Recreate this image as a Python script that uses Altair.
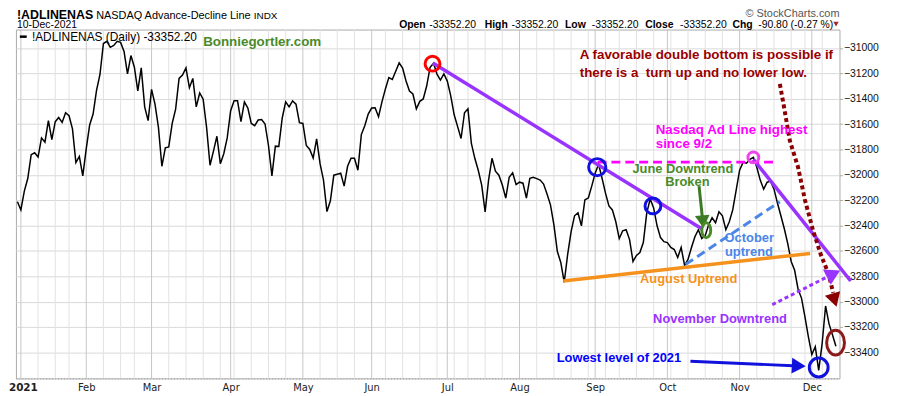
import json
import altair as alt
import numpy as np
import pandas as pd

# ---------------- data ----------------
holidays_2021 = ["2021-01-01", "2021-01-18", "2021-02-15", "2021-04-02",
                 "2021-05-31", "2021-07-05", "2021-09-06", "2021-11-25"]

# NASDAQ Advance-Decline line, daily close, 31-Dec-2020 .. 10-Dec-2021
adl_close = [
    -32212, -32277, -32128, -32029, -31841, -31826, -31860, -31709, -31743, -31573,
    -31722, -31581, -31548, -31587, -31511, -31534, -31638, -31904, -31855, -32009,
    -31795, -31607, -31521, -31334, -31209, -30965, -30948, -30995, -30980, -30948,
    -30956, -31027, -31204, -31060, -31152, -31339, -31157, -31464, -31573, -31326,
    -31443, -31626, -31933, -31787, -31780, -31595, -31482, -31240, -31214, -31157,
    -31313, -31240, -31464, -31355, -31404, -31626, -31925, -31813, -31696, -31912,
    -31834, -31709, -31495, -31417, -31417, -31581, -31425, -31474, -31595, -31613,
    -31568, -31565, -31599, -31769, -32009, -31774, -31777, -31552, -31425, -31464,
    -31417, -31443, -31589, -31595, -31769, -31800, -31868, -31716, -31912, -32042,
    -32290, -32205, -32003, -31995, -31987, -32089, -31933, -31870, -31870, -31964,
    -31683, -31613, -31521, -31474, -31472, -31542, -31425, -31323, -31234, -31248,
    -31183, -31118, -31159, -31261, -31339, -31363, -31480, -31421, -31402, -31300,
    -31152, -31120, -31206, -31253, -31204, -31261, -31378, -31527, -31620, -31714,
    -31511, -31480, -31753, -31870, -31964, -32081, -32292, -32042, -31870, -31972,
    -32003, -32081, -32183, -32019, -31985, -32077, -32058, -32066, -32183, -32027,
    -32019, -32030, -32042, -32073, -32152, -32237, -32394, -32605, -32691, -32847,
    -32628, -32448, -32323, -32300, -32402, -32198, -32183, -32089, -31987, -31917,
    -32027, -32144, -32245, -32277, -32370, -32503, -32441, -32433, -32511, -32683,
    -32636, -32613, -32534, -32300, -32191, -32261, -32402, -32495, -32527, -32534,
    -32573, -32589, -32652, -32573, -32714, -32667, -32573, -32488, -32433, -32503,
    -32480, -32394, -32339, -32378, -32292, -32323, -32433, -32370, -32277, -32120,
    -31964, -31902, -31909, -31878, -31863, -31941, -32042, -32113, -32058, -32050,
    -32113, -32222, -32323, -32425, -32542, -32683, -32753, -32902, -32972, -33120,
    -33277, -33417, -33355, -33542, -33331, -33034, -33175, -33261, -33352.2,
]

month_labels = ["2021", "Feb", "Mar", "Apr", "May", "Jun", "Jul", "Aug", "Sep", "Oct", "Nov", "Dec"]
y_tick_values = list(range(-33400, -30999, 200))

# annotation anchors (session number, A-D value)
circle_session = [119.7, 167.6, 183.8, 232.0, 213.0]
circle_value = [-31124, -31940, -32245, -33519, -31863]
circle_color = ["#ff0000", "#1111dd", "#1111dd", "#1111dd", "#ee44ee"]
circle_size = [225, 300, 256, 361, 121]

ellipse_session = [236.9, 199.3]
ellipse_value = [-33323, -32437]
ellipse_color = ["#8b1a1a", "#4a8a2a"]

june_down_session, june_down_value = [119.8, 198.1], [-31118, -32427]
nov_down_session, nov_down_value = [213.0, 241.3], [-31878, -32837]
since_92_session, since_92_value = [167.7, 218.7], [-31900, -31900]
aug_up_session, aug_up_value = [157.7, 229.5], [-32837, -32620]
oct_up_session, oct_up_value = [193.3, 220.7], [-32706, -32212]
nov_arrow_session, nov_arrow_value = [218.5, 236.3], [-33024, -32780]
low_arrow_session, low_arrow_value = [194.7, 226.2], [-33470, -33507]
green_arrow_session, green_arrow_value = [197.2, 198.3], [-32089, -32370]
dbl_curve_session = [220.7, 221.6, 223.6, 226.0, 228.0, 230.3, 232.6, 234.9, 236.2]
dbl_curve_value = [-31284, -31417, -31730, -31941, -32198, -32433, -32628, -32784, -32930]

head_session = [236.3, 226.2, 236.6, 198.3]
head_value = [-32780, -33507, -32988, -32370]
head_shape = ["triangle-right", "triangle-right", "triangle-down", "triangle-down"]
head_angle = [333, 3, 343, 355]
head_color = ["#9933ff", "#1111dd", "#8b0000", "#3d7a26"]
head_size = [300, 260, 260, 220]

left_text = ["Bonniegortler.com", "A favorable double bottom is possible if",
             "there is a \u00a0turn up and no lower low.", "Nasdaq Ad Line highest", "since 9/2"]
left_session = [53.0, 162.5, 162.5, 184.6, 184.6]
left_value = [-30952, -31058, -31198, -31644, -31761]
left_color = ["#4a8a2a", "#990000", "#990000", "#ff00ff", "#ff00ff"]

center_text = ["June Downtrend", "Broken", "October", "uptrend", "August Uptrend",
               "November Downtrend", "Lowest level of 2021"]
center_session = [192.5, 193.8, 211.8, 211.7, 194.2, 203.3, 173.9]
center_value = [-31955, -32058, -32495, -32605, -32823, -33140, -33448]
center_color = ["#4a8a2a", "#4a8a2a", "#4a86e8", "#4a86e8", "#f5921e", "#9933ff", "#0000ff"]

# ---------------- trading calendar ----------------
cal = np.arange(np.datetime64("2020-12-31"), np.datetime64("2021-12-11"))
sessions = cal[np.is_busday(cal, holidays=np.array(holidays_2021, dtype="datetime64[D]"))]
session_no = np.arange(len(sessions)) - 1
line_df = pd.DataFrame({"session": session_no, "date": sessions.astype(str), "adl": adl_close})

dti = pd.DatetimeIndex(sessions.astype("datetime64[ns]"))
iso_week = dti.isocalendar().week.to_numpy()
months = dti.month.to_numpy()
grid_rows = []
month_starts = []
for i in range(1, len(dti)):
    if months[i] != months[i - 1]:
        grid_rows.append({"session": int(session_no[i]), "color": "#c6c6c6"})
        month_starts.append(int(session_no[i]))
    elif iso_week[i] != iso_week[i - 1]:
        grid_rows.append({"session": int(session_no[i]), "color": "#e2e2e2"})
grid_df = pd.DataFrame(grid_rows)

# ---------------- scales / axes ----------------
x_scale = alt.Scale(domain=[-1.44, 238.04], nice=False, zero=False)
y_scale = alt.Scale(domain=[-33605, -30855], nice=False, zero=False)

label_expr = f"{json.dumps(month_labels)}[indexof({json.dumps(month_starts)}, datum.value)]"
x_axis = alt.Axis(values=month_starts, labelExpr=label_expr, grid=False, ticks=False,
                  domainColor="#999999", domainDash=[1, 2], labelPadding=4,
                  labelFont="DejaVu Sans",
                  labelFontSize=alt.condition("datum.value == 0", alt.value(10.5), alt.value(10)),
                  labelFontWeight=alt.condition("datum.value == 0", alt.value("bold"), alt.value("normal")),
                  labelOffset=alt.condition("datum.value == 0", alt.value(2), alt.value(0)),
                  labelColor="#222222", labelOverlap=False, labelBound=False, labelFlush=False,
                  title=None)
y_axis = alt.Axis(orient="right", values=y_tick_values, format="d", grid=True,
                  gridColor="#d9d9d9", tickSize=3, tickColor="#aaaaaa", labelPadding=1,
                  domain=False, labelFont="Liberation Sans", labelFontSize=10.5,
                  labelColor="#111111", title=None)


def X(field="session"):
    return alt.X(f"{field}:Q", scale=x_scale, axis=x_axis)


def Y(field="adl"):
    return alt.Y(f"{field}:Q", scale=y_scale, axis=y_axis)


def seg(s, v):
    return pd.DataFrame({"session": s, "adl": v})


layers = []

# vertical grid
layers.append(alt.Chart(grid_df).mark_rule(strokeWidth=1).encode(
    x=X(), color=alt.Color("color:N", scale=None)))

# main line
layers.append(alt.Chart(line_df).mark_line(color="black", strokeWidth=1.5).encode(
    x=X(), y=Y(), tooltip=["date:N", "adl:Q"]))

# legend inside plot
layers.append(alt.Chart(pd.DataFrame({"session": [-0.3], "s2": [1.7], "adl": [-30911]}))
              .mark_rule(color="black", strokeWidth=2.5)
              .encode(x=X(), x2=alt.X2("s2"), y=Y()))
layers.append(alt.Chart(pd.DataFrame({"session": [3.2], "adl": [-30913],
                                      "t": ["!ADLINENAS (Daily) -33352.20"]}))
              .mark_text(align="left", baseline="middle", font="Liberation Sans", fontSize=12,
                         color="black")
              .encode(x=X(), y=Y(), text="t:N"))

# trend lines
line_styles = [
    (june_down_session, june_down_value, "#9933ff", 3.5, None),
    (nov_down_session, nov_down_value, "#9933ff", 3.5, None),
    (since_92_session, since_92_value, "#ff00ff", 3, [9, 5]),
    (aug_up_session, aug_up_value, "#f5921e", 3.5, None),
    (oct_up_session, oct_up_value, "#4a86e8", 3, [9, 5]),
    (nov_arrow_session, nov_arrow_value, "#9933ff", 3, [4, 3]),
    (low_arrow_session, low_arrow_value, "#1111dd", 3, None),
    (green_arrow_session, green_arrow_value, "#3d7a26", 3, None),
    (dbl_curve_session, dbl_curve_value, "#8b0000", 4, [4, 3]),
]
for s, v, c, w, dash in line_styles:
    kw = dict(color=c, strokeWidth=w, clip=False)
    if dash:
        kw["strokeDash"] = dash
    layers.append(alt.Chart(seg(s, v)).mark_line(**kw).encode(x=X(), y=Y()))

# arrow heads
head_df = pd.DataFrame({"session": head_session, "adl": head_value, "shape": head_shape,
                        "angle": head_angle, "color": head_color, "size": head_size})
layers.append(alt.Chart(head_df).mark_point(filled=True, opacity=1, clip=False).encode(
    x=X(), y=Y(), shape=alt.Shape("shape:N", scale=None), angle=alt.Angle("angle:Q", scale=None),
    color=alt.Color("color:N", scale=None), size=alt.Size("size:Q", scale=None)))

# circles
circ_df = pd.DataFrame({"session": circle_session, "adl": circle_value,
                        "color": circle_color, "size": circle_size})
layers.append(alt.Chart(circ_df).mark_point(filled=False, strokeWidth=3, opacity=1, shape="circle").encode(
    x=X(), y=Y(), color=alt.Color("color:N", scale=None), size=alt.Size("size:Q", scale=None)))

# ellipses
ell_df = pd.DataFrame({"session": ellipse_session, "adl": ellipse_value, "color": ellipse_color,
                       "size": [625, 225],
                       "shape": ["M0,-1A0.72,1,0,1,1,0,1A0.72,1,0,1,1,0,-1Z",
                                 "M0,-1A0.6,1,0,1,1,0,1A0.6,1,0,1,1,0,-1Z"]})
layers.append(alt.Chart(ell_df).mark_point(filled=False, strokeWidth=3, opacity=1).encode(
    x=X(), y=Y(), color=alt.Color("color:N", scale=None), size=alt.Size("size:Q", scale=None),
    shape=alt.Shape("shape:N", scale=None)))

# annotation texts
left_df = pd.DataFrame({"session": left_session, "adl": left_value, "t": left_text, "color": left_color})
layers.append(alt.Chart(left_df).mark_text(align="left", baseline="middle", font="Liberation Sans",
                                           fontSize=13.5, fontWeight="bold").encode(
    x=X(), y=Y(), text="t:N", color=alt.Color("color:N", scale=None)))
center_df = pd.DataFrame({"session": center_session, "adl": center_value, "t": center_text,
                          "color": center_color})
layers.append(alt.Chart(center_df).mark_text(align="center", baseline="middle", font="Liberation Sans",
                                             fontSize=13, fontWeight="bold").encode(
    x=X(), y=Y(), text="t:N", color=alt.Color("color:N", scale=None)))

# header (positions in pixels relative to the plot origin)
header = [
    ("!ADLINENAS", 1, -10.5, 12.5, "bold", "left", "#000000"),
    ("NASDAQ Advance-Decline Line", 81, -10.5, 11, "normal", "left", "#000000"),
    ("INDX", 240, -10.5, 10, "normal", "left", "#000000"),
    ("© StockCharts.com", 831, -12.5, 11, "normal", "right", "#555555"),
    ("10-Dec-2021", 1, -1.5, 10.5, "normal", "left", "#000000"),
    ("Open", 386.7, -1.5, 10.5, "bold", "left", "#000000"),
    ("-33352.20", 417, -1.5, 10.5, "normal", "left", "#000000"),
    ("High", 473, -1.5, 10.5, "bold", "left", "#000000"),
    ("-33352.20", 500, -1.5, 10.5, "normal", "left", "#000000"),
    ("Low", 554, -1.5, 10.5, "bold", "left", "#000000"),
    ("-33352.20", 581, -1.5, 10.5, "normal", "left", "#000000"),
    ("Close", 635, -1.5, 10.5, "bold", "left", "#000000"),
    ("-33352.20", 670, -1.5, 10.5, "normal", "left", "#000000"),
    ("Chg", 723, -1.5, 10.5, "bold", "left", "#000000"),
    ("-90.80 (-0.27 %)", 749, -1.5, 10.5, "normal", "left", "#000000"),
]
for txt, px, py, fs, fw, al, col in header:
    layers.append(alt.Chart(pd.DataFrame({"t": [txt]})).mark_text(
        align=al, baseline="alphabetic", font="Liberation Sans", fontSize=fs, fontWeight=fw,
        color=col).encode(x=alt.value(px), y=alt.value(py), text="t:N"))
layers.append(alt.Chart(pd.DataFrame({"t": ["down"]})).mark_point(
    shape="triangle-down", filled=True, color="#a52a2a", size=30, opacity=1).encode(
    x=alt.value(827.5), y=alt.value(-5.5)))

chart = alt.layer(*layers).properties(
    width=831, height=352,
    autosize=alt.AutoSizeParams(type="none"),
    padding={"left": 8, "top": 20, "right": 53, "bottom": 16},
    background="white",
).configure_view(stroke="#aaaaaa", strokeWidth=1)

chart.save("out.html", embed_options={"renderer": "svg", "actions": False})
